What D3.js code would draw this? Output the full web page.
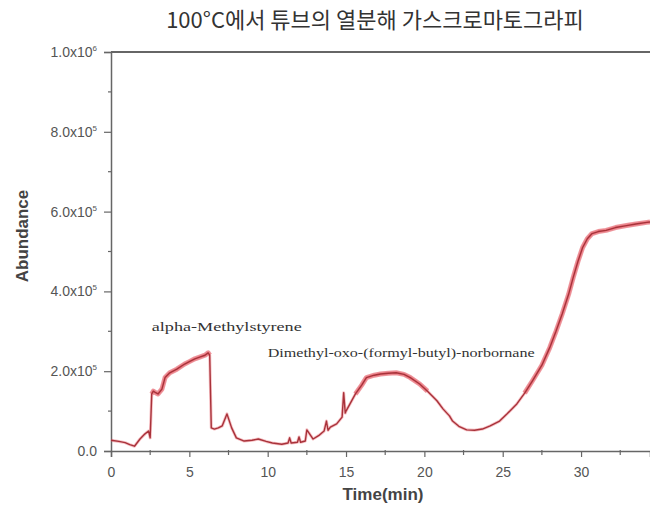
<!DOCTYPE html>
<html>
<head>
<meta charset="utf-8">
<script src="https://cdn.jsdelivr.net/npm/d3@7"></script>
<style>
  html, body { margin: 0; padding: 0; background: #fff; }
  svg { display: block; }
</style>
</head>
<body>
<svg id="chart" width="650" height="510"></svg>
<script>
// Chromatogram: retention time (min) and abundance (counts)
const timeMin = [
  0.0, 0.5, 0.9, 1.2, 1.5, 1.85, 2.17, 2.4, 2.5, 2.6, 2.7, 2.85, 3.0, 3.25, 3.45, 3.75,
  4.2, 4.7, 5.0, 5.35, 5.7, 6.0, 6.2, 6.3, 6.4, 6.6, 6.85, 7.1, 7.4, 7.7, 8.0, 8.5,
  9.0, 9.4, 9.9, 10.3, 10.9, 11.3, 11.4, 11.5, 11.9, 12.0, 12.1, 12.4, 12.5, 12.9,
  13.3, 13.6, 13.75, 13.85, 14.0, 14.4, 14.75, 14.85, 14.95, 15.0, 15.6, 16.0, 16.3,
  16.8, 17.2, 17.7, 18.2, 18.7, 19.1, 19.7, 20.2, 20.8, 21.2, 21.6, 21.8, 22.2, 22.7,
  23.2, 23.7, 24.2, 24.8, 25.3, 25.9, 26.4, 26.9, 27.5, 28.0, 28.4, 28.8, 29.2, 29.5,
  29.8, 30.1, 30.4, 30.7, 31.1, 31.6, 32.2, 32.9, 33.5, 34.2, 34.4
];
const abundance = [
  27000, 24000, 21000, 16000, 12000, 30000, 43000, 50000, 33000, 143000, 150000, 146000, 143000, 155000, 184000, 196000,
  205000, 218000, 224000, 231000, 236000, 240000, 246000, 240000, 58000, 55000, 58000, 63000, 93000, 58000, 33000, 25000,
  27000, 30000, 24000, 20000, 17000, 20000, 33000, 20000, 22000, 35000, 22000, 25000, 53000, 30000,
  40000, 50000, 75000, 52000, 60000, 68000, 85000, 146000, 95000, 100000, 143000, 165000, 184000,
  190000, 193000, 195000, 196000, 192000, 184000, 168000, 150000, 126000, 105000, 88000, 75000, 62000, 53000,
  52000, 55000, 63000, 75000, 94000, 118000, 145000, 176000, 215000, 259000, 300000, 344000, 392000, 435000,
  475000, 510000, 532000, 545000, 550000, 553000, 560000, 565000, 569000, 573000, 574000
];

const yTickValues = [0, 200000, 400000, 600000, 800000, 1000000];
const yTickLabels = ["0.0", "2.0x10", "4.0x10", "6.0x10", "8.0x10", "1.0x10"];
const yTickExponents = ["", "5", "5", "5", "5", "6"];
const xTickValues = [0, 5, 10, 15, 20, 25, 30];

const peakLabels = ["alpha-Methylstyrene", "Dimethyl-oxo-(formyl-butyl)-norbornane"];
const peakTimes = [2.6, 10.0];
const peakLevels = [300000, 235000];

const titleText = "100°C에서 튜브의 열분해 가스크로마토그라피";
const xTitle = "Time(min)";
const yTitle = "Abundance";

// ---- layout ----
const svg = d3.select("#chart");
const plotLeft = 111, plotRight = 650, plotTop = 52, plotBottom = 451;

const x = d3.scaleLinear().domain([0, 34.4]).range([plotLeft, plotRight]);
const y = d3.scaleLinear().domain([0, 1000000]).range([plotBottom, plotTop]);

const axisColor = "#666";
const labelColor = "#555";

// title
svg.append("text")
  .attr("x", 375).attr("y", 28)
  .attr("text-anchor", "middle")
  .attr("font-family", "'Noto Sans CJK KR', 'Noto Sans', sans-serif")
  .attr("font-size", 22)
  .attr("fill", "#333")
  .text(titleText);

// top frame line
svg.append("line")
  .attr("x1", plotLeft).attr("x2", plotRight)
  .attr("y1", plotTop).attr("y2", plotTop)
  .attr("stroke", axisColor).attr("stroke-width", 2);

// y axis
const yAxis = d3.axisLeft(y).tickValues(yTickValues).tickSize(7).tickFormat(() => "");
const gy = svg.append("g").attr("transform", `translate(${plotLeft},0)`).call(yAxis);
gy.select(".domain").attr("stroke", axisColor).attr("stroke-width", 1.5);
gy.selectAll(".tick line").attr("stroke", axisColor).attr("stroke-width", 1.2);
// minor ticks
const yMinor = d3.range(100000, 1000000, 200000);
svg.append("g").selectAll("line").data(yMinor).join("line")
  .attr("x1", plotLeft - 3).attr("x2", plotLeft + 1)
  .attr("y1", d => y(d)).attr("y2", d => y(d))
  .attr("stroke", axisColor).attr("stroke-width", 1.2);

// y tick labels with superscript exponents
const yLab = svg.append("g").selectAll("text").data(yTickValues).join("text")
  .attr("x", plotLeft - 14)
  .attr("y", d => y(d) + 5)
  .attr("text-anchor", "end")
  .attr("font-family", "Arial, 'Liberation Sans', sans-serif")
  .attr("font-size", 14)
  .attr("fill", labelColor);
yLab.each(function(d, i) {
  const t = d3.select(this);
  t.append("tspan").text(yTickLabels[i]);
  if (yTickExponents[i]) {
    t.append("tspan").attr("dy", -6).attr("font-size", 8).text(yTickExponents[i]);
  }
});

// x axis
const xAxis = d3.axisBottom(x).tickValues(xTickValues).tickSize(6).tickFormat(d3.format("d"));
const gx = svg.append("g").attr("transform", `translate(0,${plotBottom})`).call(xAxis);
gx.select(".domain").attr("stroke", axisColor).attr("stroke-width", 1.5);
gx.selectAll(".tick line").attr("stroke", axisColor).attr("stroke-width", 1.2);
gx.selectAll(".tick text")
  .attr("y", 26).attr("dy", null)
  .attr("font-family", "Arial, 'Liberation Sans', sans-serif")
  .attr("font-size", 14)
  .attr("fill", labelColor);
const xMinor = d3.range(2.5, 34.4, 5);
svg.append("g").selectAll("line").data(xMinor).join("line")
  .attr("x1", d => x(d)).attr("x2", d => x(d))
  .attr("y1", plotBottom - 1).attr("y2", plotBottom + 4)
  .attr("stroke", axisColor).attr("stroke-width", 1.2);

// axis titles
svg.append("text")
  .attr("x", 383).attr("y", 500)
  .attr("text-anchor", "middle")
  .attr("font-family", "Arial, 'Liberation Sans', sans-serif")
  .attr("font-size", 17).attr("font-weight", "bold")
  .attr("fill", "#444")
  .text(xTitle);
svg.append("text")
  .attr("transform", "translate(28,236) rotate(-90)")
  .attr("text-anchor", "middle")
  .attr("font-family", "Arial, 'Liberation Sans', sans-serif")
  .attr("font-size", 17).attr("font-weight", "bold")
  .attr("fill", "#444")
  .text(yTitle);

// chromatogram trace: a soft halo over the high-signal stretches, then the trace itself
const pts = timeMin.map((t, i) => [t, abundance[i]]);
const line = d3.line().x(d => x(d[0])).y(d => y(d[1]));
const haloLine = d3.line().defined(d => d[1] > 130000).x(d => x(d[0])).y(d => y(d[1]));
svg.append("path").datum(pts)
  .attr("d", haloLine)
  .attr("fill", "none")
  .attr("stroke", "#e0404c").attr("stroke-opacity", 0.55)
  .attr("stroke-width", 5).attr("stroke-linejoin", "round");
svg.append("path").datum(pts)
  .attr("d", line)
  .attr("fill", "none")
  .attr("stroke", "#e8606a").attr("stroke-opacity", 0.4)
  .attr("stroke-width", 3).attr("stroke-linejoin", "round");
svg.append("path").datum(pts)
  .attr("d", line)
  .attr("fill", "none")
  .attr("stroke", "#a8323a")
  .attr("stroke-width", 1.4).attr("stroke-linejoin", "round");

// peak annotations
const peakWidths = [150, 267];
svg.append("g").selectAll("text").data(peakLabels).join("text")
  .attr("x", (d, i) => x(peakTimes[i]))
  .attr("y", (d, i) => y(peakLevels[i]))
  .attr("font-family", "'Liberation Serif', 'Times New Roman', serif")
  .attr("font-size", 13.5)
  .attr("fill", "#333")
  .attr("textLength", (d, i) => peakWidths[i])
  .attr("lengthAdjust", "spacingAndGlyphs")
  .text(d => d);
</script>
</body>
</html>
